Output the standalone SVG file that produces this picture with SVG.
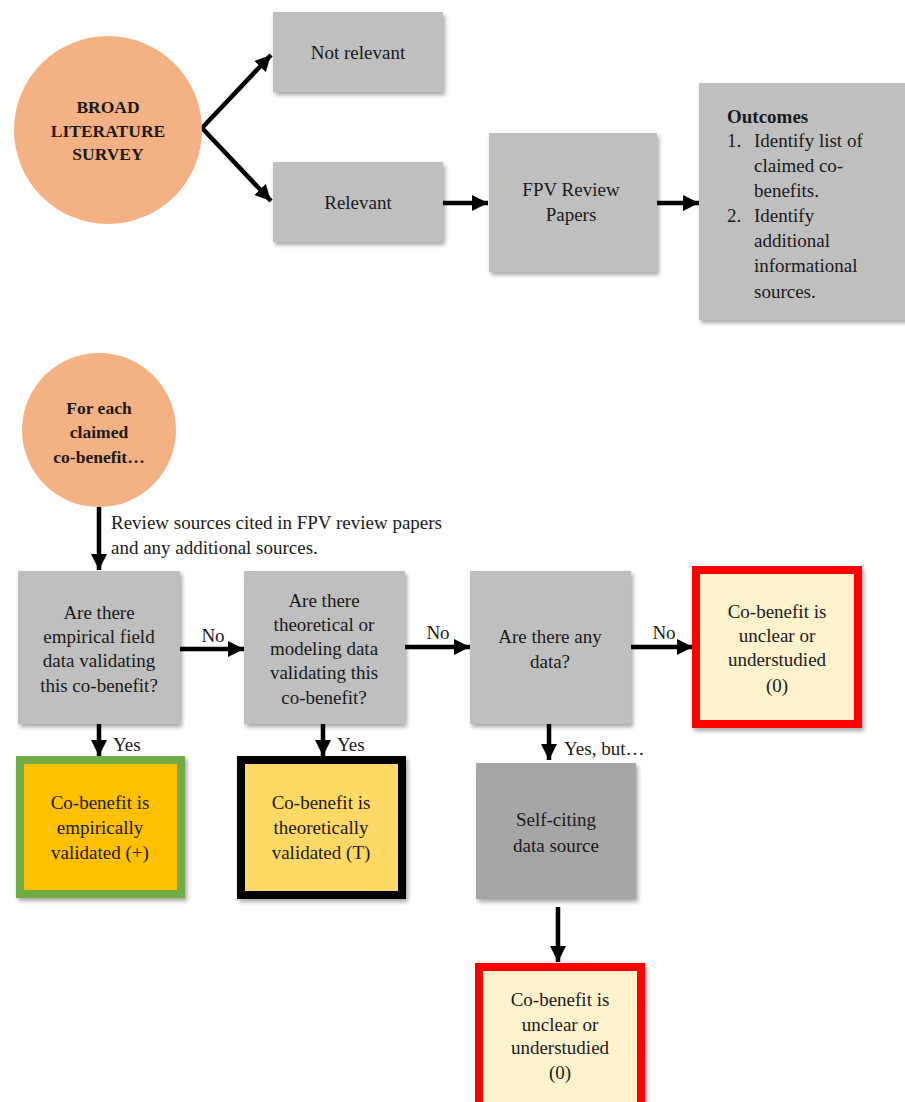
<svg xmlns="http://www.w3.org/2000/svg" width="905" height="1102" viewBox="0 0 905 1102">
<defs>
<filter id="sh" x="-10%" y="-10%" width="130%" height="130%">
<feDropShadow dx="2" dy="3" stdDeviation="2" flood-color="#000" flood-opacity="0.35"/>
</filter>
<marker id="ah" viewBox="0 0 10 10" refX="10" refY="5" markerWidth="16" markerHeight="16" markerUnits="userSpaceOnUse" orient="auto">
<path d="M0,0 L10,5 L0,10 z" fill="#000"/>
</marker>
</defs>
<style>
text{font-family:"Liberation Serif","Times New Roman",serif;font-size:19px;fill:#1a1a1a;text-anchor:middle}
.b{font-weight:bold}
.l{text-anchor:start}
.gray{fill:#BFBFBF}
.dark{fill:#A6A6A6}
.circ{fill:#F4B183}
.conn line{stroke:#000;stroke-width:4.5;marker-end:url(#ah)}
</style>
<rect width="905" height="1102" fill="#fff"/>

<g id="connectors" class="conn">
<line x1="202" y1="128" x2="271" y2="55"/>
<line x1="202" y1="128" x2="271" y2="201"/>
<line x1="443" y1="203" x2="488" y2="203"/>
<line x1="657" y1="203" x2="699" y2="203"/>
<line x1="99" y1="507" x2="99" y2="570"/>
<line x1="180" y1="649" x2="244" y2="649"/>
<line x1="405" y1="647" x2="470" y2="647"/>
<line x1="631" y1="647" x2="693" y2="647"/>
<line x1="99" y1="724" x2="99" y2="756"/>
<line x1="323" y1="724" x2="323" y2="756"/>
<line x1="549" y1="724" x2="549" y2="760"/>
<line x1="558" y1="907" x2="558" y2="962"/>
</g>

<g id="labels">
<text class="l" x="111" y="529">Review sources cited in FPV review papers</text>
<text class="l" x="111" y="554">and any additional sources.</text>
<text x="213" y="642">No</text>
<text x="438" y="639">No</text>
<text x="664" y="639">No</text>
<text class="l" x="113" y="751">Yes</text>
<text class="l" x="337" y="751">Yes</text>
<text class="l" x="564" y="755">Yes, but…</text>
</g>

<g id="broad">
<circle class="circ" cx="108" cy="130" r="94"/>
<text class="b" x="108" y="113" style="font-size:17.5px">BROAD</text>
<text class="b" x="108" y="137" style="font-size:17.5px">LITERATURE</text>
<text class="b" x="108" y="160" style="font-size:17.5px">SURVEY</text>
</g>

<g id="not-relevant">
<rect class="gray" x="273" y="12" width="170" height="80" filter="url(#sh)"/>
<text x="358" y="59">Not relevant</text>
</g>

<g id="relevant">
<rect class="gray" x="273" y="162" width="170" height="80" filter="url(#sh)"/>
<text x="358" y="209">Relevant</text>
</g>

<g id="fpv">
<rect class="gray" x="489" y="133" width="168" height="139" filter="url(#sh)"/>
<text x="571" y="196">FPV Review</text>
<text x="571" y="221">Papers</text>
</g>

<g id="outcomes">
<rect class="gray" x="699" y="83" width="210" height="237" filter="url(#sh)"/>
<text class="l b" x="727" y="123">Outcomes</text>
<text class="l" x="727" y="147">1.</text>
<text class="l" x="754" y="147">Identify list of</text>
<text class="l" x="754" y="172">claimed co-</text>
<text class="l" x="754" y="197">benefits.</text>
<text class="l" x="727" y="222">2.</text>
<text class="l" x="754" y="222">Identify</text>
<text class="l" x="754" y="247">additional</text>
<text class="l" x="754" y="272">informational</text>
<text class="l" x="754" y="298">sources.</text>
</g>

<g id="for-each">
<circle class="circ" cx="99" cy="430" r="77"/>
<text class="b" x="99" y="414" style="font-size:17.5px">For each</text>
<text class="b" x="99" y="438" style="font-size:17.5px">claimed</text>
<text class="b" x="99" y="463" style="font-size:17.5px">co-benefit…</text>
</g>

<g id="q-empirical">
<rect class="gray" x="18" y="571" width="162" height="153" filter="url(#sh)"/>
<text x="99" y="619">Are there</text>
<text x="99" y="643">empirical field</text>
<text x="99" y="667">data validating</text>
<text x="99" y="692">this co-benefit?</text>
</g>

<g id="q-theoretical">
<rect class="gray" x="244" y="571" width="161" height="153" filter="url(#sh)"/>
<text x="324" y="607">Are there</text>
<text x="324" y="631">theoretical or</text>
<text x="324" y="655">modeling data</text>
<text x="324" y="679">validating this</text>
<text x="324" y="704">co-benefit?</text>
</g>

<g id="q-any">
<rect class="gray" x="470" y="571" width="161" height="153" filter="url(#sh)"/>
<text x="550" y="643">Are there any</text>
<text x="550" y="668">data?</text>
</g>

<g id="unclear-1">
<rect x="696" y="570" width="162" height="154" fill="#FFF2CC" stroke="#FF0000" stroke-width="8" filter="url(#sh)"/>
<text x="777" y="618">Co-benefit is</text>
<text x="777" y="642">unclear or</text>
<text x="777" y="666">understudied</text>
<text x="777" y="692">(0)</text>
</g>

<g id="empirical">
<rect x="20" y="760" width="161" height="134" fill="#FFC000" stroke="#70AD47" stroke-width="8" filter="url(#sh)"/>
<text x="100" y="809">Co-benefit is</text>
<text x="100" y="834">empirically</text>
<text x="100" y="859">validated (+)</text>
</g>

<g id="theoretical">
<rect x="241" y="760" width="161" height="135" fill="#FFD966" stroke="#000" stroke-width="8" filter="url(#sh)"/>
<text x="321" y="809">Co-benefit is</text>
<text x="321" y="834">theoretically</text>
<text x="321" y="859">validated (T)</text>
</g>

<g id="self-citing">
<rect class="dark" x="476" y="763" width="160" height="136" filter="url(#sh)"/>
<text x="556" y="826">Self-citing</text>
<text x="556" y="852">data source</text>
</g>

<g id="unclear-2">
<rect x="479" y="967" width="162" height="145" fill="#FFF2CC" stroke="#FF0000" stroke-width="8" filter="url(#sh)"/>
<text x="560" y="1006">Co-benefit is</text>
<text x="560" y="1031">unclear or</text>
<text x="560" y="1054">understudied</text>
<text x="560" y="1079">(0)</text>
</g>
</svg>
